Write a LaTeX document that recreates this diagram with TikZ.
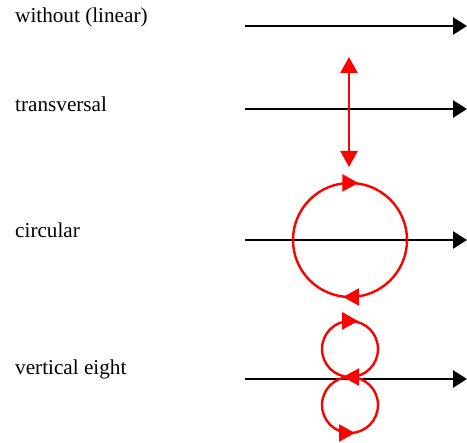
\documentclass[tikz,border=0pt]{standalone}
\usepackage{fontspec}
\setmainfont{Liberation Serif}
\usetikzlibrary{arrows.meta,decorations.markings}

\begin{document}
\begin{tikzpicture}[x=1pt,y=1pt,
  beam/.style={black,line width=2.6pt,-{Triangle[length=14pt,width=17pt]}},
  motion/.style={red,line width=2.4pt},
  redtip/.tip={Triangle[length=16pt,width=17pt]},
  every node/.style={font=\fontsize{21.2}{25}\selectfont,anchor=base west,inner sep=0pt}]
  \useasboundingbox (0,0) rectangle (467,443);

  % the four cases, one row each
  \node (lin)  at (15,420) {without (linear)};
  \node (tra)  at (15,331) {transversal};
  \node (cir)  at (15,205) {circular};
  \node (eig)  at (15,68)  {vertical eight};

  \foreach \y/\n in {417/a,334/b,203/c,64/d}{
    \coordinate (\n0) at (245,\y);
    \coordinate (\n1) at (467,\y);
    \draw[beam] (\n0) -- (\n1);
  }

  % transversal: up and down
  \coordinate (up) at (349,386);
  \coordinate (dn) at (349,276);
  \draw[motion,redtip-redtip] (dn) -- (up);

  % circular
  \draw[motion,postaction={decorate},decoration={markings,
      mark=at position 0.001 with {\arrow[red,xshift=8pt]{redtip}},
      mark=at position 0.5 with {\arrow[red,xshift=7pt]{redtip}}}]
    (350,260) arc[start angle=90,end angle=-270,radius=57];

  % vertical eight
  \draw[motion,postaction={decorate},decoration={markings,
      mark=at position 0.001 with {\arrow[red,xshift=8pt]{redtip}},
      mark=at position 0.5 with {\arrow[red,xshift=7pt]{redtip}}}]
    (350,122) arc[start angle=90,end angle=-270,radius=28];
  \draw[motion,postaction={decorate},decoration={markings,
      mark=at position 0.5 with {\arrow[red,xshift=5pt]{redtip}}}]
    (350,66) arc[start angle=90,end angle=450,radius=28];
\end{tikzpicture}
\end{document}
